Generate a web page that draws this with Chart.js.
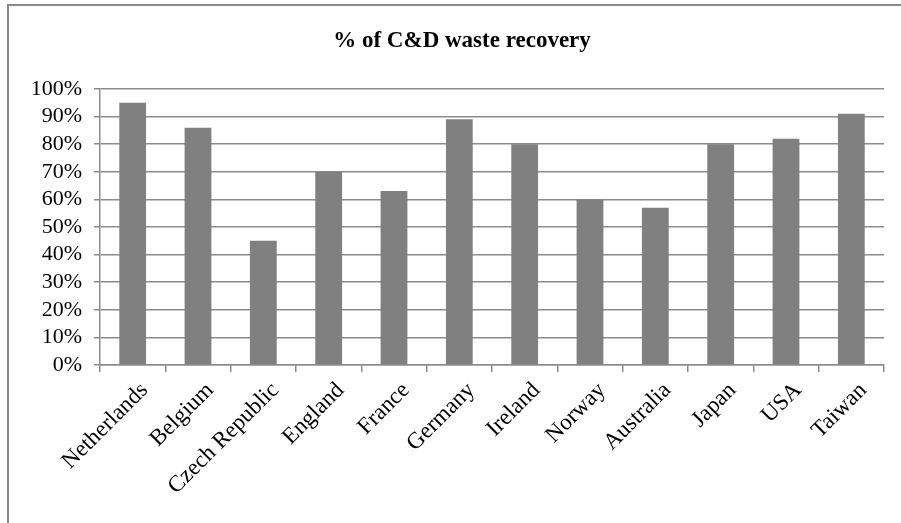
<!DOCTYPE html>
<html>
<head>
<meta charset="utf-8">
<title>% of C&amp;D waste recovery</title>
<script src="https://cdn.jsdelivr.net/npm/chart.js@4/dist/chart.umd.min.js"></script>
<style>
  html, body { margin: 0; padding: 0; background: #fff; }
  #wrap { position: relative; width: 901px; height: 523px; }
  canvas { display: block; }
</style>
</head>
<body>
<div id="wrap"><canvas id="chart" width="901" height="523"></canvas></div>
<script>
// Countries on the category axis
const countries = [
  'Netherlands', 'Belgium', 'Czech Republic', 'England', 'France', 'Germany',
  'Ireland', 'Norway', 'Australia', 'Japan', 'USA', 'Taiwan'
];

// Share of construction & demolition waste recovered, in percent
const recoveryPct = [95, 86, 45, 70, 63, 89, 80, 60, 57, 80, 82, 91];

// Value axis range and step (percent)
const yMin = 0;
const yMax = 100;
const yStep = 10;

const chartTitle = '% of C&D waste recovery';
const serif = '"Liberation Serif", "Times New Roman", serif';
const gridGray = '#8c8c8c';

// Thin frame along the top and left edges of the figure
const framePlugin = {
  id: 'frame',
  beforeDraw(chart) {
    const ctx = chart.ctx;
    ctx.save();
    ctx.strokeStyle = '#8a8a8a';
    ctx.lineWidth = 2;
    ctx.beginPath();
    ctx.moveTo(8, chart.height);
    ctx.lineTo(8, 5);
    ctx.lineTo(chart.width, 5);
    ctx.stroke();
    ctx.restore();
  }
};

// Bold heading, centred over the frame's inner width
const headingPlugin = {
  id: 'heading',
  afterDraw(chart) {
    const ctx = chart.ctx;
    ctx.save();
    ctx.fillStyle = '#000';
    ctx.font = 'bold 23px ' + serif;
    ctx.textAlign = 'center';
    ctx.textBaseline = 'middle';
    ctx.fillText(chartTitle, 462, 41);
    ctx.restore();
  }
};

new Chart(document.getElementById('chart'), {
  type: 'bar',
  data: {
    labels: countries,
    datasets: [{
      label: chartTitle,
      data: recoveryPct,
      backgroundColor: '#808080',
      borderWidth: 0,
      barPercentage: 0.41,
      categoryPercentage: 1
    }]
  },
  options: {
    responsive: false,
    animation: false,
    devicePixelRatio: 1,
    layout: { padding: { top: 89, left: 0, right: 17, bottom: 0 } },
    plugins: {
      legend: { display: false },
      tooltip: { enabled: false },
      title: { display: false }
    },
    scales: {
      x: {
        afterFit(scale) { scale.height = 158; },
        border: { display: true, color: gridGray, width: 1.5 },
        grid: {
          display: true,
          offset: true,
          drawOnChartArea: false,
          drawTicks: true,
          tickLength: 7,
          color: gridGray,
          lineWidth: 1.5
        },
        ticks: {
          color: '#000',
          font: { family: serif, size: 23 },
          minRotation: 45,
          maxRotation: 45,
          padding: 5,
          labelOffset: 12,
          autoSkip: false
        }
      },
      y: {
        min: yMin,
        max: yMax,
        afterFit(scale) { scale.width = 100; },
        border: { display: true, color: gridGray, width: 1.5 },
        grid: {
          color: gridGray,
          lineWidth: 1.5,
          drawTicks: true,
          tickLength: 6
        },
        ticks: {
          stepSize: yStep,
          autoSkip: false,
          color: '#000',
          font: { family: serif, size: 22 },
          padding: 12,
          callback: v => v + '%'
        }
      }
    }
  },
  plugins: [framePlugin, headingPlugin]
});
</script>
</body>
</html>
